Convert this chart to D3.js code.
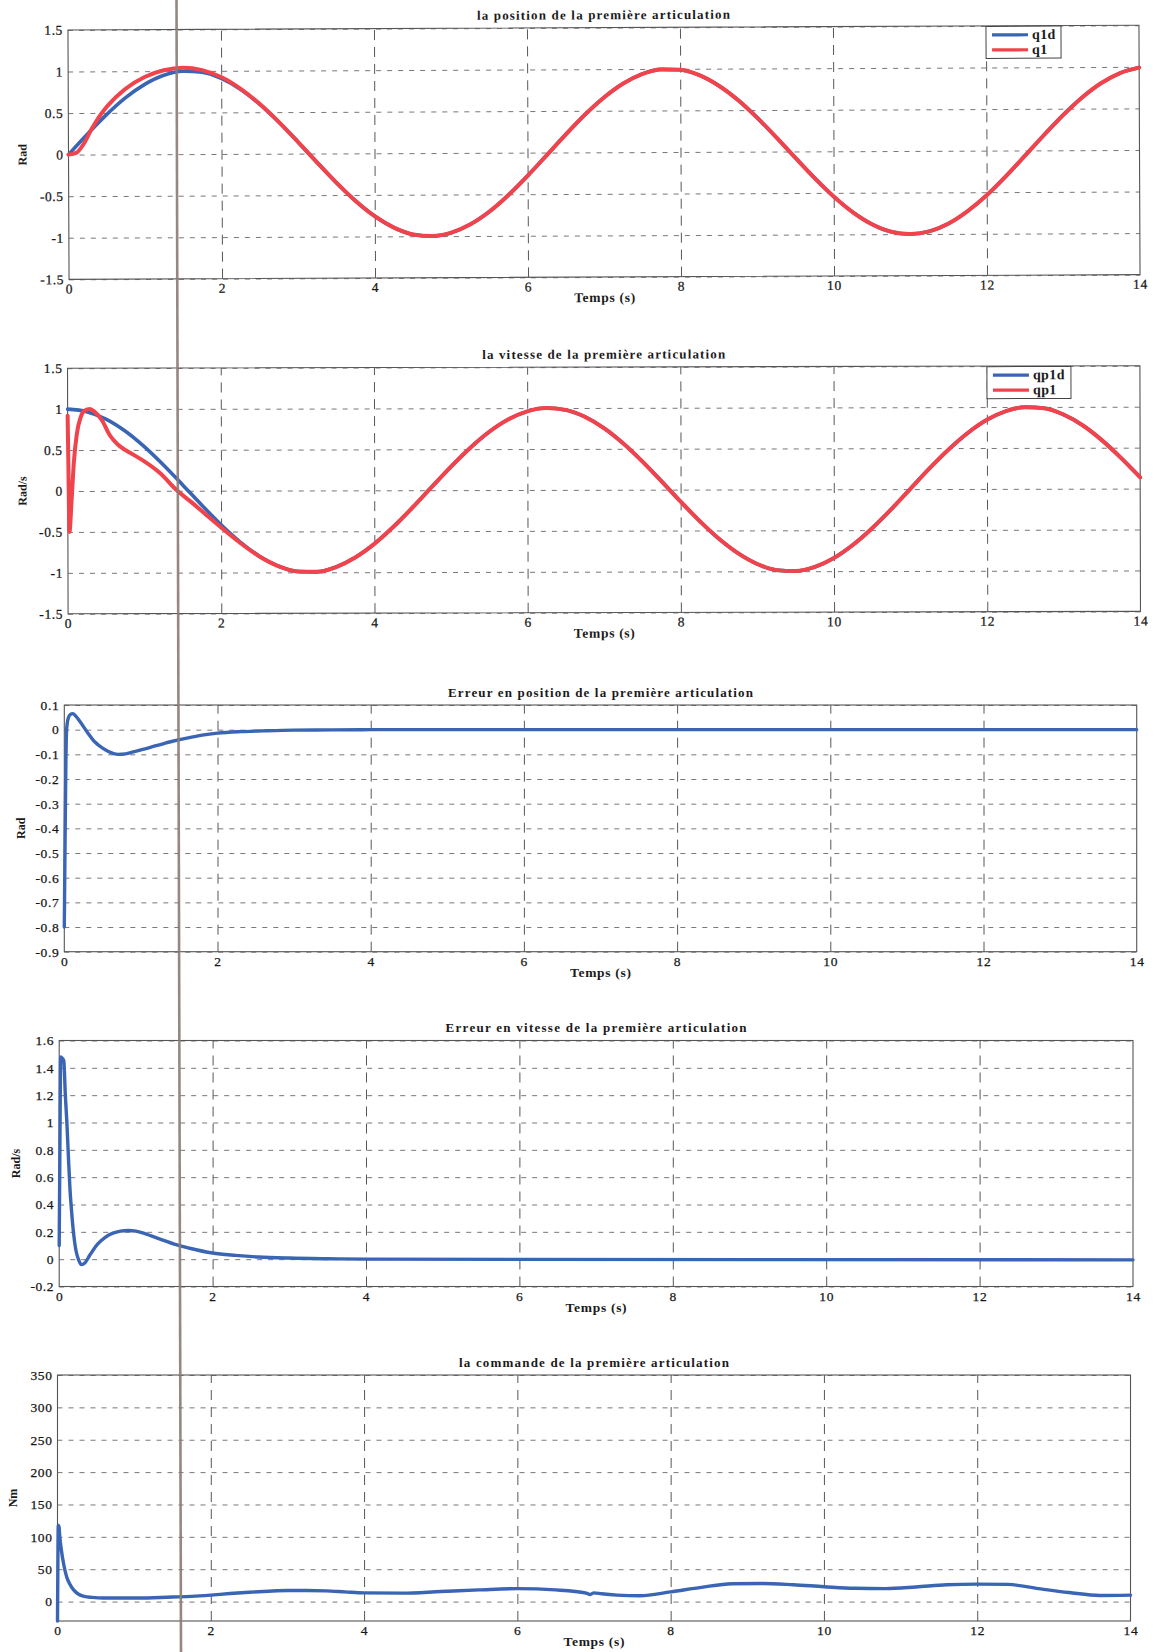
<!DOCTYPE html>
<html><head><meta charset="utf-8">
<script src="https://cdn.jsdelivr.net/npm/d3@7"></script>
<style>
body{margin:0;background:#fff;}
text{font-family:"Liberation Serif","Times New Roman",serif;fill:#1a1a1a;}
</style>
</head><body>
<svg id="c" width="1154" height="1652"></svg>
<script>
// ---------------- DATA ----------------
const titles = [
  "la position de la première articulation",
  "la vitesse de la première articulation",
  "Erreur en position de la première articulation",
  "Erreur en vitesse de la première articulation",
  "la commande de la première articulation"
];
const xLabel = "Temps (s)";
const yLabels = ["Rad", "Rad/s", "Rad", "Rad/s", "Nm"];
const xTicks = [0, 2, 4, 6, 8, 10, 12, 14];
const xTickLabels = ["0", "2", "4", "6", "8", "10", "12", "14"];

const yTicks12 = [-1.5, -1, -0.5, 0, 0.5, 1, 1.5];
const yTickLabels12 = ["-1.5", "-1", "-0.5", "0", "0.5", "1", "1.5"];
const yTicks3 = [-0.9, -0.8, -0.7, -0.6, -0.5, -0.4, -0.3, -0.2, -0.1, 0, 0.1];
const yTickLabels3 = ["-0.9", "-0.8", "-0.7", "-0.6", "-0.5", "-0.4", "-0.3", "-0.2", "-0.1", "0", "0.1"];
const yTicks4 = [-0.2, 0, 0.2, 0.4, 0.6, 0.8, 1, 1.2, 1.4, 1.6];
const yTickLabels4 = ["-0.2", "0", "0.2", "0.4", "0.6", "0.8", "1", "1.2", "1.4", "1.6"];
const yTicks5 = [0, 50, 100, 150, 200, 250, 300, 350];
const yTickLabels5 = ["0", "50", "100", "150", "200", "250", "300", "350"];
const yDomains = [[-1.5, 1.5], [-1.5, 1.5], [-0.9, 0.1], [-0.2, 1.6], [-30, 350]];

const legend1 = ["q1d", "q1"];
const legend2 = ["qp1d", "qp1"];

// time grid (s) used by the smooth reference curves
const tGrid = [0,0.25,0.5,0.75,1,1.25,1.5,1.75,2,2.25,2.5,2.75,3,3.25,3.5,3.75,4,4.25,4.5,4.75,5,5.25,5.5,5.75,6,6.25,6.5,6.75,7,7.25,7.5,7.75,8,8.25,8.5,8.75,9,9.25,9.5,9.75,10,10.25,10.5,10.75,11,11.25,11.5,11.75,12,12.25,12.5,12.75,13,13.25,13.5,13.75,14];

// panel 1 : position
const q1d = [0,0.247,0.479,0.682,0.841,0.949,0.997,0.984,0.909,
  0.778,0.598,0.382,0.141,-0.108,-0.351,-0.572,-0.757,
  -0.895,-0.978,-0.999,-0.959,-0.859,-0.706,-0.508,-0.279,
  -0.033,0.215,0.451,0.657,0.823,0.938,0.994,0.989,
  0.923,0.798,0.625,0.412,0.174,-0.075,-0.319,-0.544,
  -0.735,-0.880,-0.971,-1.000,-0.968,-0.875,-0.727,-0.537,
  -0.311,-0.066,0.182,0.420,0.632,0.804,0.926,0.991];
const tQ1 = [0,0.1,0.2,0.3,0.4,0.5,0.75,1,1.25,1.5,1.75,2,
  2.25,2.5,2.75,3,3.25,3.5,3.75,4,4.25,4.5,4.75,5,5.25,5.5,5.75,6,6.25,6.5,6.75,7,7.25,7.5,7.75,8,
  8.25,8.5,8.75,9,9.25,9.5,9.75,10,10.25,10.5,10.75,11,11.25,11.5,11.75,12,12.25,12.5,12.75,13,13.25,13.5,13.75,14];
const q1 = [0,0.02,0.13,0.3,0.45,0.57,0.79,0.93,1.01,1.04,1.01,0.925,
  0.785,0.602,0.384,0.142,-0.108,-0.351,-0.572,-0.757,
  -0.895,-0.978,-0.999,-0.959,-0.859,-0.706,-0.508,-0.279,
  -0.033,0.215,0.451,0.657,0.823,0.938,0.994,0.989,
  0.923,0.798,0.625,0.412,0.174,-0.075,-0.319,-0.544,
  -0.735,-0.880,-0.971,-1.000,-0.968,-0.875,-0.727,-0.537,
  -0.311,-0.066,0.182,0.420,0.632,0.804,0.926,0.991];

// panel 2 : velocity
const qp1d = [1,0.969,0.878,0.732,0.540,0.315,0.071,-0.178,-0.416,
  -0.628,-0.801,-0.924,-0.990,-0.994,-0.936,-0.820,-0.654,
  -0.446,-0.211,0.038,0.284,0.512,0.709,0.861,0.960,
  1.000,0.977,0.893,0.754,0.568,0.347,0.104,-0.146,
  -0.386,-0.602,-0.780,-0.911,-0.986,-0.997,-0.948,-0.839,
  -0.678,-0.476,-0.245,0.004,0.253,0.483,0.684,0.844,
  0.950,0.998,0.983,0.907,0.775,0.593,0.376,0.137];
const tQp1 = [0,0.01,0.02,0.05,0.08,0.12,0.17,0.22,0.29,0.35,0.45,0.55,0.65,0.75,0.86,1.0,1.2,1.43,1.6,1.8,2.0,2.25,2.5,2.75,3,
  3.25,3.5,3.75,4,4.25,4.5,4.75,5,5.25,5.5,5.75,6,6.25,6.5,6.75,7,7.25,7.5,7.75,8,
  8.25,8.5,8.75,9,9.25,9.5,9.75,10,10.25,10.5,10.75,11,11.25,11.5,11.75,12,12.25,12.5,12.75,13,13.25,13.5,13.75,14];
const qp1 = [0.92,0.2,-0.5,-0.1,0.35,0.7,0.9,0.98,1.0,0.97,0.86,0.68,0.57,0.5,0.44,0.36,0.22,0.0,-0.13,-0.29,-0.45,-0.64,-0.805,-0.925,-0.99,
  -0.994,-0.936,-0.820,-0.654,-0.446,-0.211,0.038,0.284,0.512,0.709,0.861,0.960,
  1.000,0.977,0.893,0.754,0.568,0.347,0.104,-0.146,
  -0.386,-0.602,-0.780,-0.911,-0.986,-0.997,-0.948,-0.839,
  -0.678,-0.476,-0.245,0.004,0.253,0.483,0.684,0.844,
  0.950,0.998,0.983,0.907,0.775,0.593,0.376,0.137];

// panel 3 : position error
const tErrPos = [0,0.01,0.02,0.03,0.05,0.08,0.11,0.15,0.2,0.3,0.4,0.5,0.6,0.7,0.8,0.9,1.0,1.2,1.4,1.6,1.8,2.0,2.3,2.6,3.0,3.5,4,14];
const errPos = [-0.8,-0.45,-0.15,0.0,0.045,0.062,0.065,0.055,0.035,-0.01,-0.05,-0.075,-0.092,-0.1,-0.098,-0.09,-0.082,-0.065,-0.048,-0.034,-0.022,-0.014,-0.008,-0.005,-0.002,-0.001,0,0];

// panel 4 : velocity error
const tErrVel = [0,0.01,0.02,0.04,0.06,0.08,0.1,0.12,0.14,0.16,0.18,0.2,0.22,0.25,0.29,0.33,0.4,0.5,0.6,0.7,0.8,0.9,1.0,1.1,1.2,1.35,1.5,1.7,2.0,2.3,2.6,3.0,3.5,4.0,14];
const errVel = [0.1,0.9,1.48,1.47,1.45,1.2,1.0,0.75,0.52,0.36,0.23,0.13,0.06,0.0,-0.04,-0.03,0.03,0.11,0.16,0.19,0.205,0.21,0.205,0.19,0.17,0.14,0.11,0.08,0.045,0.028,0.016,0.008,0.003,0.0,-0.005];

// panel 5 : command torque
const tCmd = [0,0.005,0.01,0.02,0.03,0.05,0.08,0.12,0.16,0.21,0.28,0.35,0.45,0.6,0.8,1.0,1.25,1.5,1.75,2.0,2.25,2.5,2.75,3.0,3.25,3.5,3.75,4.0,4.5,5.0,5.5,6.0,6.5,6.9,6.95,7.0,7.1,7.3,7.6,8.0,8.4,8.8,9.2,9.6,10.0,10.4,10.8,11.2,11.6,12.0,12.4,12.8,13.2,13.6,14.0];
const cmd = [-30,60,118,115,100,80,58,38,27,18,11,8,6.5,5.5,5.5,5.5,6,7,8,10,12.5,14.5,16,17,17,16.5,15,13.5,13,15.5,18,20,18,13,11,13.5,12,10,9,15,22,27.5,28,26,23,20.5,20,22.5,26,27,26.5,20,14,9.5,10];

// ---------------- DRAWING ----------------
const BLUE = "#3a64b4", RED = "#f0434b";
const FONT = '"Liberation Serif","Times New Roman",serif';
const svg = d3.select("#c");

const layout = [
  {l:68.5, r:1139.5, t:27.6, b:277,   rot:-0.25, ylabX:26.5, titleW:253},
  {l:67.8, r:1140.2, t:367,  b:612.6, rot:-0.13, ylabX:26.5, titleW:243},
  {l:64.3, r:1136.7, t:705,  b:951.7, rot:0,     ylabX:25,   titleW:305},
  {l:59.2, r:1133,   t:1040.5, b:1286.5, rot:0,  ylabX:20,   titleW:301},
  {l:57.5, r:1130.5, t:1375, b:1621,  rot:0,     ylabX:17.3, titleW:270}
];
const zip = (t, v) => t.map((d, i) => [d, v[i]]);
const panels = [
  {yTicks:yTicks12, yTL:yTickLabels12, series:[{d:zip(tGrid,q1d),c:BLUE,w:3.6},{d:zip(tQ1,q1),c:RED,w:4}], legend:legend1, legW:75},
  {yTicks:yTicks12, yTL:yTickLabels12, series:[{d:zip(tGrid,qp1d),c:BLUE,w:3.6},{d:zip(tQp1,qp1),c:RED,w:4}], legend:legend2, legW:84},
  {yTicks:yTicks3, yTL:yTickLabels3, series:[{d:zip(tErrPos,errPos),c:BLUE,w:3.4}]},
  {yTicks:yTicks4, yTL:yTickLabels4, series:[{d:zip(tErrVel,errVel),c:BLUE,w:3.4}]},
  {yTicks:yTicks5, yTL:yTickLabels5, series:[{d:zip(tCmd,cmd),c:BLUE,w:3.4}]}
];

panels.forEach((p, i) => {
  const L = layout[i];
  const cx = (L.l + L.r) / 2, cy = (L.t + L.b) / 2;
  const g = svg.append("g").attr("transform", `rotate(${L.rot},${cx},${cy})`);
  const x = d3.scaleLinear().domain([0, 14]).range([L.l, L.r]);
  const y = d3.scaleLinear().domain(yDomains[i]).range([L.b, L.t]);

  // grid (horizontal)
  const gy = g.append("g").attr("transform", `translate(${L.l},0)`)
    .call(d3.axisLeft(y).tickValues(p.yTicks).tickSize(-(L.r - L.l)).tickFormat(""));
  gy.select(".domain").remove();
  gy.selectAll("line").attr("stroke", "#555").attr("stroke-width", 0.8).attr("stroke-dasharray", "5,6");
  // grid (vertical)
  const gx = g.append("g").attr("transform", `translate(0,${L.b})`)
    .call(d3.axisBottom(x).tickValues(xTicks.slice(1, -1)).tickSize(-(L.b - L.t)).tickFormat(""));
  gx.select(".domain").remove();
  gx.selectAll("line").attr("stroke", "#444").attr("stroke-width", 0.9).attr("stroke-dasharray", "10,7");

  // box
  g.append("rect").attr("x", L.l).attr("y", L.t).attr("width", L.r - L.l).attr("height", L.b - L.t)
    .attr("fill", "none").attr("stroke", "#555").attr("stroke-width", 1.1);

  // tick labels
  const ax = g.append("g").attr("transform", `translate(0,${L.b})`)
    .call(d3.axisBottom(x).tickValues(xTicks).tickSize(0).tickPadding(4.5).tickFormat((d, k) => xTickLabels[k]))
    .attr("font-family", FONT).attr("font-size", 13.5);
  ax.select(".domain").remove();
  ax.selectAll("text").style("letter-spacing", "0.8px").attr("fill", "#111")
    .attr("stroke", "#111").attr("stroke-width", 0.25).style("font-family", FONT);
  const ay = g.append("g").attr("transform", `translate(${L.l},0)`)
    .call(d3.axisLeft(y).tickValues(p.yTicks).tickSize(0).tickPadding(5).tickFormat((d, k) => p.yTL[k]))
    .attr("font-family", FONT).attr("font-size", 13.5);
  ay.select(".domain").remove();
  ay.selectAll("text").style("letter-spacing", "0.6px").attr("fill", "#111")
    .attr("stroke", "#111").attr("stroke-width", 0.25).style("font-family", FONT);

  // series
  const line = d3.line().x(d => x(d[0])).y(d => y(d[1])).curve(d3.curveMonotoneX);
  p.series.forEach(s => {
    g.append("path").attr("d", line(s.d)).attr("fill", "none").attr("stroke", s.c)
      .attr("stroke-width", s.w).attr("stroke-linejoin", "round").attr("stroke-linecap", "round");
  });

  // title
  g.append("text").attr("x", cx).attr("y", L.t - 8.3).attr("text-anchor", "middle")
    .attr("font-size", 13).attr("font-weight", "bold")
    .attr("textLength", L.titleW).attr("lengthAdjust", "spacing").text(titles[i]);
  // x label
  g.append("text").attr("x", cx).attr("y", L.b + 25).attr("text-anchor", "middle")
    .attr("font-size", 13.5).attr("font-weight", "bold")
    .attr("textLength", 61).attr("lengthAdjust", "spacing").text(xLabel);
  // y label
  g.append("text").attr("transform", `translate(${L.ylabX},${cy}) rotate(-90)`).attr("text-anchor", "middle")
    .attr("font-size", 12).attr("font-weight", "bold").text(yLabels[i]);

  // legend
  if (p.legend) {
    const lx = L.r - 153, ly = L.t + 0.5;
    const lg = g.append("g");
    lg.append("rect").attr("x", lx).attr("y", ly).attr("width", p.legW).attr("height", 32)
      .attr("fill", "#fff").attr("stroke", "#444").attr("stroke-width", 1);
    p.legend.forEach((name, k) => {
      const yy = ly + 8.5 + k * 15;
      lg.append("line").attr("x1", lx + 6).attr("x2", lx + 42).attr("y1", yy).attr("y2", yy)
        .attr("stroke", p.series[k].c).attr("stroke-width", 3.2);
      lg.append("text").attr("x", lx + 46).attr("y", yy + 4.3).attr("font-size", 14)
        .attr("font-weight", "bold").style("letter-spacing", "0.4px").text(name);
    });
  }
});

// scanner streak crossing the page
svg.append("line").attr("x1", 176.5).attr("y1", 0).attr("x2", 181).attr("y2", 1652)
  .attr("stroke", "#8c7b74").attr("stroke-width", 2.6).attr("opacity", 0.9);
</script>
</body></html>
